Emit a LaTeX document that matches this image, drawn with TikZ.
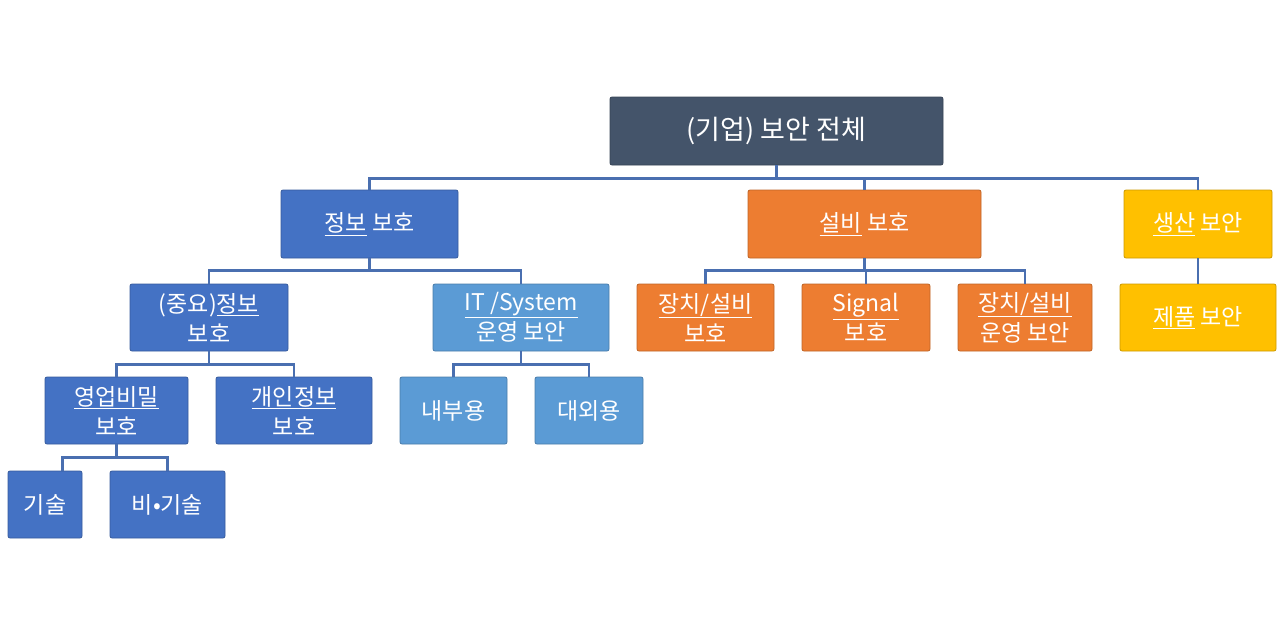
\documentclass[tikz,border=0pt]{standalone}
\usepackage{fontspec}
\setmainfont{Noto Sans CJK KR}
\begin{document}
\begin{tikzpicture}[x=1pt,y=-1pt,
 box/.style={rounded corners=2pt,draw=#1!80!black,fill=#1,line width=0.8pt,text=white,align=center,font=\fontsize{23}{30}\selectfont,inner sep=0pt},
 ln/.style={draw=cl,line width=2.5pt}]
\definecolor{cs}{HTML}{44546A}\definecolor{cb}{HTML}{4472C4}\definecolor{cl}{HTML}{4A6FB0}
\definecolor{co}{HTML}{ED7D31}\definecolor{cy}{HTML}{FFC000}\definecolor{cc}{HTML}{5B9BD5}
\useasboundingbox (0,0) rectangle (1280,635);
\newcommand\bx[6]{\node[box=#2,minimum width={#5-#3},minimum height={#6-#4}] (#1) at ({(#3+#5)/2},{(#4+#6)/2})}
\bx{root}{cs}{610}{97}{943}{165} {\fontsize{27}{32}\selectfont (기업) 보안 전체};
\bx{jb}{cb}{281}{190}{458}{258} {\underline{정보} 보호};
\bx{sb}{co}{748}{190}{981}{258} {\underline{설비} 보호};
\bx{ss}{cy}{1124}{190}{1272}{258} {\underline{생산} 보안};
\bx{jy}{cb}{130}{284}{288}{351} {(중요)\underline{정보}\\보호};
\bx{it}{cc}{433}{284}{609}{351} {\underline{IT /System}\\운영 보안};
\bx{jc}{co}{637}{284}{774}{351} {\underline{장치/설비}\\보호};
\bx{sg}{co}{802}{284}{930}{351} {\underline{Signal}\\보호};
\bx{uy}{co}{958}{284}{1092}{351} {\underline{장치/설비}\\운영 보안};
\bx{jp}{cy}{1120}{284}{1276}{351} {\underline{제품} 보안};
\bx{yb}{cb}{45}{377}{188}{444} {\underline{영업비밀}\\보호};
\bx{gi}{cb}{216}{377}{372}{444} {\underline{개인정보}\\보호};
\bx{nb}{cc}{400}{377}{507}{444} {내부용};
\bx{dw}{cc}{535}{377}{643}{444} {대외용};
\bx{gs}{cb}{8}{471}{82}{538} {기술};
\bx{bg}{cb}{110}{471}{225}{538} {비•기술};
\draw[ln] (root.south) -- ++(0,13) coordinate (r1);
\foreach \c in {jb,sb,ss} \draw[ln] (\c.north) |- (r1);
\draw[ln] (jb.south) -- ++(0,12) coordinate (r2);
\foreach \c in {jy,it} \draw[ln] (\c.north) |- (r2);
\draw[ln] (sb.south) -- ++(0,12) coordinate (r3);
\foreach \c in {jc,sg,uy} \draw[ln] (\c.north) |- (r3);
\draw[ln] (ss.south) -- (jp.north);
\draw[ln] (jy.south) -- ++(0,13) coordinate (r4);
\foreach \c in {yb,gi} \draw[ln] (\c.north) |- (r4);
\draw[ln] (it.south) -- ++(0,13) coordinate (r5);
\foreach \c in {nb,dw} \draw[ln] (\c.north) |- (r5);
\draw[ln] (yb.south) -- ++(0,13) coordinate (r6);
\draw[ln] ([xshift=-20pt]gs.north east) |- (r6);
\draw[ln] ([xshift=-58pt]bg.north east) |- (r6);
\end{tikzpicture}
\end{document}
